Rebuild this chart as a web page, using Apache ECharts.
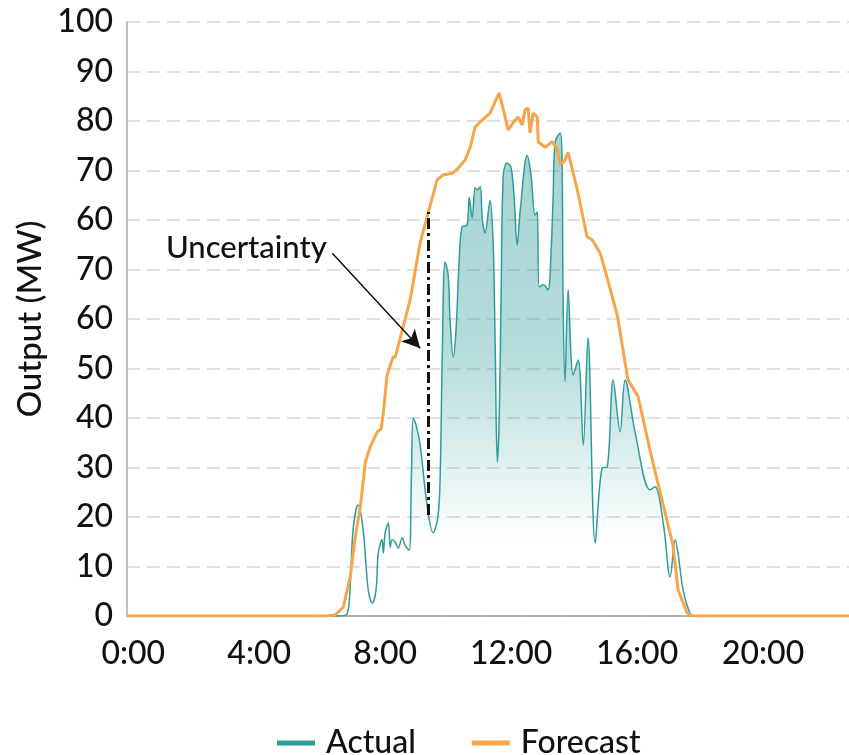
<!DOCTYPE html>
<html>
<head>
<meta charset="utf-8">
<script src="https://cdn.jsdelivr.net/npm/echarts@6/dist/echarts.min.js"></script>
<style>
  html, body { margin: 0; padding: 0; background: #fff; }
  #chart { width: 849px; height: 755px; }
</style>
</head>
<body>
<div id="chart"></div>
<script>
// tick labels as printed on the original (the left axis repeats 60/70)
var yLabels = ['0', '10', '20', '30', '40', '50', '60', '70', '60', '70', '80', '90', '100'];
var xLabels = ['0:00', '4:00', '8:00', '12:00', '16:00', '20:00'];
var xTickHours = [0, 4, 8, 12, 16, 20];

// [hour of day, output in axis units]
var forecast = [
  [-0.2, 0], [6.13, 0], [6.41, 0.2], [6.67, 1.8], [6.89, 7.9], [7.05, 16.0], [7.21, 22.0],
  [7.37, 31.1], [7.52, 34.1], [7.75, 37.2], [7.87, 37.8], [7.94, 41.0], [8.06, 48.7],
  [8.25, 52.3], [8.32, 52.3], [8.79, 63.8], [9.11, 75.4], [9.37, 81.6], [9.65, 88.1],
  [9.84, 89.1], [10.16, 89.5], [10.32, 90.5], [10.54, 92.1], [10.70, 94.7], [10.86, 98.8],
  [11.08, 100.2], [11.33, 101.6], [11.62, 105.7], [11.81, 100.8], [11.90, 98.2],
  [12.13, 100.2], [12.22, 100.8], [12.35, 99.2], [12.44, 102.2], [12.54, 102.6],
  [12.60, 97.6], [12.70, 101.6], [12.83, 100.8], [12.86, 95.8], [13.08, 94.7],
  [13.30, 95.8], [13.46, 94.5], [13.56, 91.1], [13.71, 92.1], [13.81, 93.7], [14.10, 86.1],
  [14.41, 76.6], [14.57, 76.0], [14.83, 73.3], [14.98, 69.9], [15.37, 60.8], [15.71, 47.7],
  [16.03, 44.4], [16.41, 33.5], [16.83, 22.4], [17.14, 14.3], [17.30, 5.3], [17.59, 0.6],
  [17.78, 0], [22.73, 0]
];

var actual = [
  [-0.2, 0], [6.57, 0], [6.79, 0.4], [6.89, 6.3], [6.98, 17.4], [7.14, 22.4], [7.30, 17.4],
  [7.46, 5.3], [7.59, 2.6], [7.71, 5.3], [7.78, 12.7], [7.90, 15.4], [7.94, 12.7],
  [8.00, 16.8], [8.10, 18.8], [8.16, 13.9], [8.22, 15.4], [8.32, 14.9], [8.41, 13.7],
  [8.54, 15.8], [8.63, 14.3], [8.76, 13.3], [8.83, 27.5], [8.89, 40.0], [8.98, 38.6],
  [9.11, 34.5], [9.33, 22.4], [9.52, 16.8], [9.68, 20.4], [9.75, 29.5], [9.81, 51.7],
  [9.90, 71.5], [10.00, 68.9], [10.06, 59.8], [10.16, 52.3], [10.25, 57.8], [10.35, 71.9],
  [10.44, 78.6], [10.60, 79.0], [10.67, 84.6], [10.76, 80.4], [10.86, 86.5], [10.92, 86.1],
  [11.02, 86.7], [11.08, 80.4], [11.17, 77.4], [11.33, 84.0], [11.43, 74.9], [11.49, 55.8],
  [11.56, 31.1], [11.62, 39.6], [11.68, 63.8], [11.75, 89.1], [11.87, 91.5], [12.00, 90.5],
  [12.10, 84.0], [12.19, 74.9], [12.29, 82.0], [12.51, 93.1], [12.63, 89.1], [12.76, 81.0],
  [12.83, 81.6], [12.89, 66.5], [13.02, 66.9], [13.17, 65.9], [13.27, 73.9], [13.33, 84.0],
  [13.40, 95.8], [13.56, 97.6], [13.62, 90.1], [13.65, 63.8], [13.71, 47.3], [13.81, 65.9],
  [13.97, 48.7], [14.13, 51.7], [14.29, 34.5], [14.44, 56.2], [14.67, 14.7], [14.89, 29.9],
  [15.05, 30.1], [15.24, 47.7], [15.46, 37.2], [15.62, 47.7], [15.94, 37.0], [16.41, 25.5],
  [16.57, 26.1], [16.83, 18.8], [17.05, 7.9], [17.21, 15.4], [17.30, 12.7], [17.46, 5.3],
  [17.68, 0.6], [17.84, 0], [22.73, 0]
];

// annotation: gap between actual and forecast at ~9:22
var gapHour = 9.37;
var gapLow = 20.4, gapHigh = 81.6;
var notePos = [3.59, 74.3];
var arrowFrom = [6.32, 73.3], arrowTo = [9.11, 54.1];

var teal = '#2e9c9a';
var orange = '#f6a54a';
var font = 'Lato, "Open Sans", sans-serif';

var chart = echarts.init(document.getElementById('chart'));

chart.setOption({
  animation: false,
  textStyle: { fontFamily: font },
  grid: { left: 127, right: 0, top: 22, bottom: 139 },
  legend: {
    left: 272,
    top: 722,
    icon: 'rect',
    itemWidth: 38,
    itemHeight: 5,
    itemGap: 56,
    textStyle: { fontSize: 32, fontWeight: 500, color: '#111', fontFamily: font, padding: [0, 0, 0, 6] },
    data: ['Actual', 'Forecast']
  },
  xAxis: {
    type: 'value',
    min: -0.2,
    max: 22.73,
    axisLine: { show: true, onZero: false, lineStyle: { color: '#999', width: 1.5 } },
    axisTick: { show: false },
    splitLine: { show: false },
    axisLabel: {
      customValues: xTickHours,
      fontSize: 32,
      fontWeight: 500,
      color: '#111',
      margin: 22,
      formatter: function (v) { return xLabels[xTickHours.indexOf(v)]; }
    }
  },
  yAxis: {
    type: 'value',
    min: 0,
    max: 120,
    interval: 10,
    name: 'Output (MW)',
    nameLocation: 'middle',
    nameGap: 80,
    nameTextStyle: { fontSize: 33, fontWeight: 500, color: '#111' },
    axisLine: { show: true, onZero: false, lineStyle: { color: '#aaa', width: 1.5 } },
    axisTick: { show: false },
    splitLine: { lineStyle: { color: '#d6d6d6', width: 1.5, type: [13, 7] } },
    axisLabel: {
      fontSize: 32,
      fontWeight: 500,
      color: '#111',
      margin: 14,
      formatter: function (v) { return yLabels[Math.round(v / 10)]; }
    }
  },
  series: [
    {
      name: 'Actual',
      type: 'line',
      data: actual,
      smooth: 0.35,
      symbol: 'none',
      z: 2,
      lineStyle: { color: teal, width: 1.5 },
      itemStyle: { color: teal },
      areaStyle: {
        color: new echarts.graphic.LinearGradient(0, 0, 0, 1, [
          { offset: 0, color: 'rgba(46,156,154,0.62)' },
          { offset: 0.45, color: 'rgba(46,156,154,0.5)' },
          { offset: 0.7, color: 'rgba(46,156,154,0.2)' },
          { offset: 0.84, color: 'rgba(46,156,154,0)' },
          { offset: 1, color: 'rgba(46,156,154,0)' }
        ])
      },
      markPoint: {
        silent: true,
        symbol: 'rect',
        symbolSize: 1,
        itemStyle: { color: 'rgba(0,0,0,0)' },
        label: { show: true, position: 'inside', color: '#111', fontSize: 31, fontWeight: 500,
                 fontFamily: font, formatter: 'Uncertainty' },
        data: [{ coord: notePos }]
      },
      markLine: {
        silent: true,
        animation: false,
        label: { show: false },
        data: [
          [
            { coord: [gapHour, gapLow], symbol: 'none',
              lineStyle: { color: '#111', width: 3, type: [11, 4, 3, 4] } },
            { coord: [gapHour, gapHigh], symbol: 'none' }
          ],
          [
            { coord: arrowFrom, symbol: 'none',
              lineStyle: { color: '#111', width: 1.5, type: 'solid' } },
            { coord: arrowTo, symbol: 'arrow', symbolSize: [14, 18] }
          ]
        ]
      }
    },
    {
      name: 'Forecast',
      type: 'line',
      data: forecast,
      symbol: 'none',
      z: 3,
      lineStyle: { color: orange, width: 3 },
      itemStyle: { color: orange }
    }
  ]
});
</script>
</body>
</html>
